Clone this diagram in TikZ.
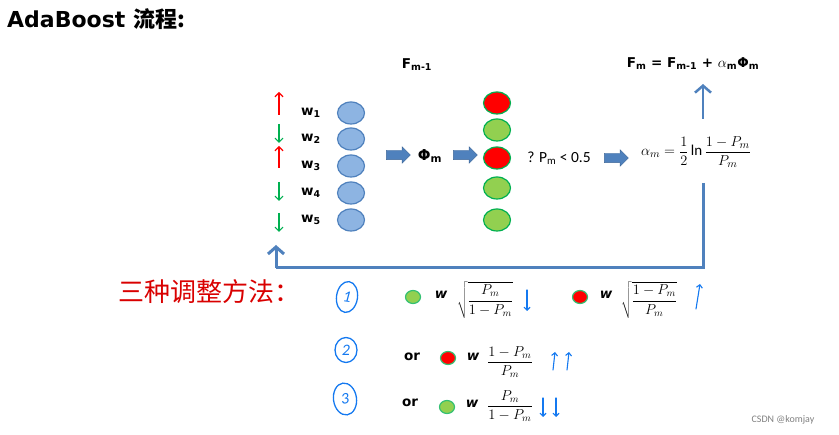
\documentclass[tikz,border=0pt]{standalone}
\usepackage{fontspec}
\setmainfont{Carlito}
\newfontfamily\cjk{Noto Sans CJK SC}
\newfontfamily\labelfont{DejaVu Sans}
\usetikzlibrary{positioning,shapes.geometric,shapes.arrows,arrows.meta}

\definecolor{boxblue}{HTML}{4F81BD}
\definecolor{lightblue}{HTML}{8DB4E2}
\definecolor{okgreen}{HTML}{92D050}
\definecolor{darkgreen}{HTML}{00B050}
\definecolor{penblue}{HTML}{1479F0}
\definecolor{penred}{HTML}{D90000}

\tikzset{
    sample/.style={
        ellipse, 
        draw=boxblue, 
        line width=1.2pt, 
        fill=lightblue, 
        minimum width=27pt, 
        minimum height=22pt, 
        inner sep=0pt},
    good/.style={
        sample, 
        draw=darkgreen, 
        fill=okgreen},
    bad/.style={
        good, 
        fill=red},
    gooddot/.style={
        ellipse, 
        draw=darkgreen!80, 
        line width=1.2pt, 
        fill=okgreen, 
        minimum width=15pt, 
        minimum height=13pt, 
        inner sep=0pt},
    baddot/.style={
        gooddot, 
        fill=red},
    blockarrow/.style={
        single arrow, 
        fill=boxblue, 
        draw=boxblue!80!black, 
        minimum height=24pt, 
        inner xsep=0pt, 
        inner ysep=4.5pt, 
        single arrow head extend=3.5pt},
    upmark/.style={
        draw=red, 
        line width=1.2pt, 
        -{Straight Barb[length=4pt,width=8pt]}},
    downmark/.style={
        upmark, 
        draw=darkgreen},
    flow/.style={
        draw=boxblue, 
        line width=3pt, 
        -{Straight Barb[length=7pt,width=16pt]}},
    pen/.style={
        draw=penblue, 
        line width=1.1pt, 
        line cap=round, 
        -{Straight Barb[length=3pt,width=6pt]}},
    wtext/.style={
        inner sep=1pt, 
        font=\labelfont\fontsize{13.5}{15}\selectfont\bfseries},
    plain/.style={
        font=\fontsize{15.5}{17}\selectfont},
    formula/.style={
        inner sep=1pt, 
        font=\fontsize{15}{17}\selectfont},
    smallformula/.style={
        inner sep=1pt, 
        font=\fontsize{14.5}{17}\selectfont},
    circnum/.style={
        ellipse, 
        draw=penblue, 
        line width=1.3pt, 
        text=penblue, 
        inner sep=0pt, 
        font=\fontsize{16}{18}\selectfont\itshape}
}

\begin{document}
\begin{tikzpicture}[x=1pt, y=-1pt]
\useasboundingbox (0,0) rectangle (839,435);

% title
\node[anchor=west, inner sep=0pt] (title) at (7,19) {\labelfont\fontsize{22}{26}\selectfont\bfseries AdaBoost \cjk 流程:};

% samples and their weights
\foreach \y [count=\i] in {113,139,166,193,220}{
    \node[sample] (s\i) at (351,\y) {};
    \node[wtext, left=15pt of s\i] (w\i) {w\textsubscript{\i}};
}
\foreach \a/\b/\m in {115/92/upmark, 124/143/downmark, 168/146/upmark, 182/201/downmark, 213/232/downmark}{
    \draw[\m] (279,\a) -- (279,\b);
}

% weak classifier
\node[blockarrow] (a1) at (396,155) {};
\node[wtext, font=\labelfont\fontsize{15}{17}\selectfont\bfseries] (phi) at (430,156) {Φ\textsubscript{m}};
\node[blockarrow] (a2) at (463,155) {};
\node[wtext] (Fprev) at (417,65) {F\textsubscript{m-1}};

\foreach \y/\c [count=\i] in {103/bad, 130/good, 158/bad, 188/good, 220/good}{
    \node[\c] (r\i) at (497,\y) {};
}

% error test and update
\node[plain] (test) at (559,158) {? P\textsubscript{m} < 0.5};
\node[blockarrow] (a3) at (614,158) {};
\node[formula] (alpha) at (696,152) {$\displaystyle\alpha_m=\frac{1}{2}\ln\frac{1-P_m}{P_m}$};
\node[wtext] (Fm) at (693,64) {F\textsubscript{m} = F\textsubscript{m-1} + $\alpha$\textsubscript{m}Φ\textsubscript{m}};

\coordinate (upstart) at (703,119);
\coordinate (uptip) at (703,84);
\draw[flow, line width=2.5pt] (upstart) -- (uptip);

\coordinate (loopstart) at (703,183);
\coordinate (loopcorner) at (276,268);
\coordinate (loopend) at (276,245);
\draw[flow, -] (loopstart) |- (loopcorner);
\draw[flow] (loopcorner) -- (loopend);

% three ways of reweighting
\node[font=\cjk\fontsize{26}{28}\selectfont, text=penred] (methods) at (209,292) {三种调整方法：};

\node[circnum, minimum width=21pt, minimum height=31pt, rotate=-8] (n1) at (347,297) {1};
\node[circnum, minimum width=22pt, minimum height=25pt] (n2) at (346,350) {2};
\node[circnum, minimum width=23pt, minimum height=32pt, rotate=8] (n3) at (345,399) {3};

\node[gooddot] (g1) at (413,297) {};
\node[wtext] (wa) at (441,295) {\itshape w};
\node[smallformula] (ra) at (485,300) {$\sqrt{\displaystyle\frac{P_m}{1-P_m}}$};
\draw[pen] (527,290) -- (527,311);

\node[baddot] (b1) at (580,297) {};
\node[wtext] (wb) at (606,295) {\itshape w};
\node[smallformula] (rb) at (649,300) {$\sqrt{\displaystyle\frac{1-P_m}{P_m}}$};
\draw[pen] (696,309) -- (700,284);

\node[wtext] (or2) at (412,357) {or};
\node[baddot] (b2) at (448,358) {};
\node[wtext] (wc) at (473,357) {\itshape w};
\node[smallformula] (rc) at (510,362) {$\displaystyle\frac{1-P_m}{P_m}$};
\draw[pen] (553,370) -- (555,352);
\draw[pen] (567,370) -- (569,352);

\node[wtext] (or3) at (410,403) {or};
\node[gooddot] (g3) at (447,407) {};
\node[wtext] (wd) at (472,404) {\itshape w};
\node[smallformula] (rd) at (510,406) {$\displaystyle\frac{P_m}{1-P_m}$};
\draw[pen] (543,398) -- (543,417);
\draw[pen] (556,398) -- (556,417);

\node[text=gray, font=\fontsize{10}{12}\selectfont] (mark) at (783,420) {CSDN @komjay};
\end{tikzpicture}
\end{document}
